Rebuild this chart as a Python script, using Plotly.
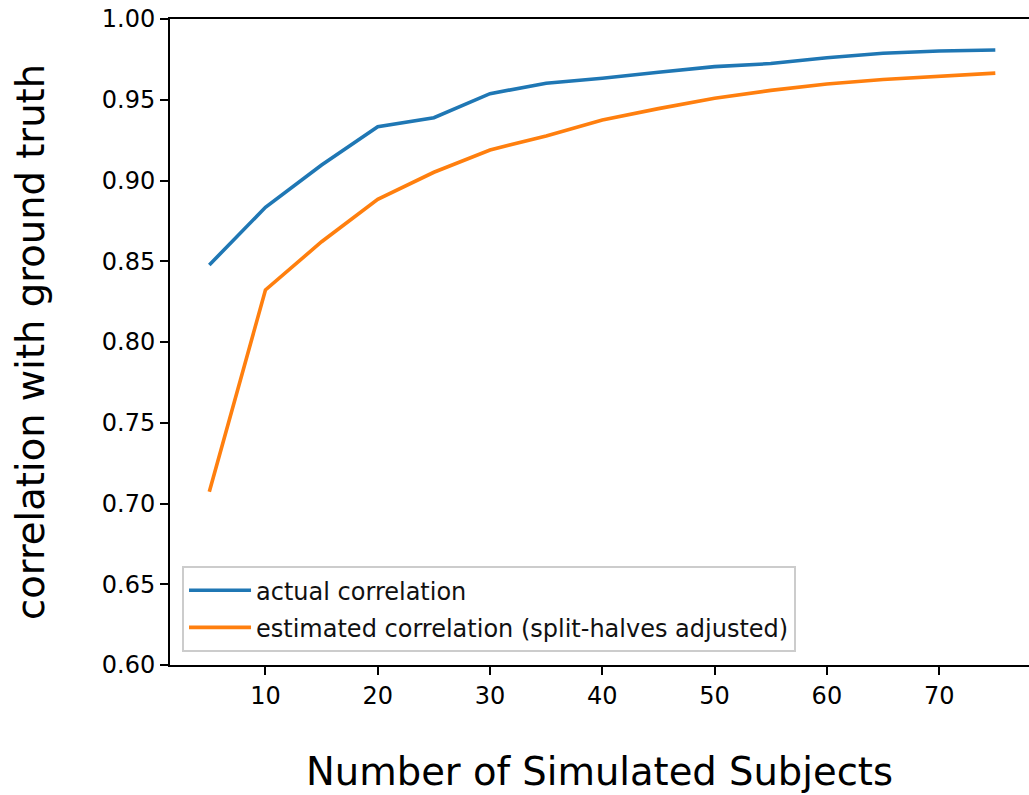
import plotly.graph_objects as go

subjects = [5, 10, 15, 20, 25, 30, 35, 40, 45, 50, 55, 60, 65, 70, 75]
actual_corr = [0.8477, 0.8834, 0.9096, 0.9333, 0.9389, 0.9538, 0.9602, 0.9633,
               0.9670, 0.9705, 0.9724, 0.9760, 0.9788, 0.9802, 0.9808]
estimated_corr = [0.7073, 0.8322, 0.8621, 0.8883, 0.9051, 0.9189, 0.9276, 0.9375,
                  0.9445, 0.9509, 0.9558, 0.9597, 0.9625, 0.9646, 0.9665]
series_names = ["actual correlation", "estimated correlation (split-halves adjusted)"]
y_ticks = [0.60, 0.65, 0.70, 0.75, 0.80, 0.85, 0.90, 0.95, 1.00]
x_ticks = [10, 20, 30, 40, 50, 60, 70]

FONT = "DejaVu Sans"
TICK_SIZE = 24

fig = go.Figure()
fig.add_trace(go.Scatter(x=subjects, y=actual_corr, mode="lines", name=series_names[0],
                         line=dict(color="#1f77b4", width=3.6), legendgroup="a"))
fig.add_trace(go.Scatter(x=subjects, y=estimated_corr, mode="lines", name=series_names[1],
                         line=dict(color="#ff7f0e", width=3.6), legendgroup="b"))

fig.update_layout(
    width=1029, height=795,
    margin=dict(l=170, r=0, t=19, b=130),
    paper_bgcolor="white", plot_bgcolor="white",
    font=dict(family=FONT, size=TICK_SIZE, color="black"),
    showlegend=True,
    legend=dict(x=0.014, y=0.02, xanchor="left", yanchor="bottom",
                bgcolor="rgba(255,255,255,0.8)", bordercolor="#cccccc", borderwidth=2,
                font=dict(family=FONT, size=TICK_SIZE, color="#111111"),
                tracegroupgap=3, itemwidth=62),
    xaxis=dict(range=[1.5, 78.0], tickvals=x_ticks, ticks="outside", ticklen=8,
               tickwidth=1.6, tickcolor="black", showgrid=False, zeroline=False,
               showline=True, linecolor="black", linewidth=2, mirror=True,
               tickfont=dict(family=FONT, size=TICK_SIZE, color="black")),
    yaxis=dict(range=[0.60, 1.00], tickvals=y_ticks,
               ticktext=[f"{v:.2f}" for v in y_ticks], ticks="outside", ticklen=8,
               tickwidth=1.6, tickcolor="black", showgrid=False, zeroline=False,
               showline=True, linecolor="black", linewidth=2, mirror=False,
               tickfont=dict(family=FONT, size=TICK_SIZE, color="black")),
    annotations=[
        dict(text="Number of Simulated Subjects", xref="paper", yref="paper",
             x=0.5, y=-0.165, xanchor="center", yanchor="middle", showarrow=False,
             font=dict(family=FONT, size=38.5, color="black")),
        dict(text="correlation with ground truth", xref="paper", yref="paper",
             x=-0.163, y=0.5, xanchor="center", yanchor="middle", showarrow=False,
             textangle=-90, font=dict(family=FONT, size=38.5, color="black")),
    ],
)

fig.write_html("out.html", config={"displayModeBar": False},
               post_script="document.body.style.margin='0';document.body.style.padding='0';")
